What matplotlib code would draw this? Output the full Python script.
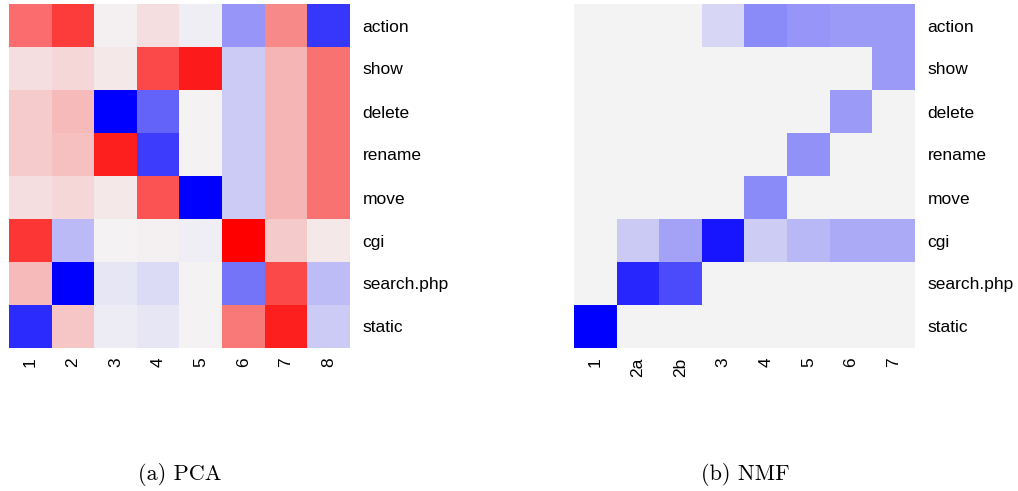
import numpy as np
import matplotlib
matplotlib.use('Agg')
import matplotlib.pyplot as plt
from matplotlib.colors import LinearSegmentedColormap

rows = ['action', 'show', 'delete', 'rename', 'move', 'cgi', 'search.php', 'static']
pca_cols = ['1', '2', '3', '4', '5', '6', '7', '8']
nmf_cols = ['1', '2a', '2b', '3', '4', '5', '6', '7']

pca = np.array([
    [0.55, 0.75, 0.01, 0.08, -0.02, -0.38, 0.43, -0.77],
    [0.08, 0.11, 0.04, 0.70, 0.89, -0.16, 0.25, 0.53],
    [0.16, 0.23, -1.00, -0.59, 0.00, -0.16, 0.25, 0.53],
    [0.16, 0.21, 0.87, -0.75, 0.00, -0.16, 0.25, 0.53],
    [0.08, 0.11, 0.04, 0.65, -1.00, -0.16, 0.25, 0.53],
    [0.78, -0.23, 0.00, 0.01, -0.02, 1.00, 0.17, 0.04],
    [0.23, -1.00, -0.05, -0.10, 0.00, -0.52, 0.70, -0.22],
    [-0.82, 0.18, -0.03, -0.05, 0.00, 0.50, 0.87, -0.16],
])

nmf = np.array([
    [0, 0, 0, 0.12, 0.43, 0.38, 0.36, 0.36],
    [0, 0, 0, 0, 0, 0, 0, 0.36],
    [0, 0, 0, 0, 0, 0, 0.36, 0],
    [0, 0, 0, 0, 0, 0.40, 0, 0],
    [0, 0, 0, 0, 0.43, 0, 0, 0],
    [0, 0.17, 0.33, 0.91, 0.16, 0.24, 0.30, 0.30],
    [0, 0.84, 0.69, 0, 0, 0, 0, 0],
    [1.00, 0, 0, 0, 0, 0, 0, 0],
])

mid = '#f4f3f4'
div = LinearSegmentedColormap.from_list('div', ['#0000ff', mid, '#ff0000'])
seq = LinearSegmentedColormap.from_list('seq', [mid, '#0000ff'])

fig = plt.figure(figsize=(10.18, 4.91), dpi=100)
W, H = 1018, 491

def heat(x0, x1, data, cmap, vmin, vmax, cols):
    ax = fig.add_axes([x0 / W, 1 - 348 / H, (x1 - x0) / W, 344 / H])
    ax.imshow(data, cmap=cmap, vmin=vmin, vmax=vmax, aspect='auto', interpolation='nearest')
    ax.set_xticks(range(len(cols)))
    ax.set_xticklabels(cols, rotation=90, fontsize=12.5, family='Liberation Sans')
    ax.set_yticks(range(len(rows)))
    ax.set_yticklabels(rows, fontsize=12.5, family='Liberation Sans')
    ax.yaxis.tick_right()
    ax.tick_params(length=0, pad=9)
    ax.tick_params(axis='x', pad=7)
    for s in ax.spines.values():
        s.set_visible(False)
    return ax

heat(9, 350, pca, div, -1, 1, pca_cols)
heat(574, 915, nmf, seq, 0, 1, nmf_cols)

fig.text(180 / W, 1 - 474 / H, '(a) PCA', ha='center', va='center', fontsize=16, family='cmr10')
fig.text(745 / W, 1 - 474 / H, '(b) NMF', ha='center', va='center', fontsize=16, family='cmr10')

fig.savefig('out.png', dpi=100)
